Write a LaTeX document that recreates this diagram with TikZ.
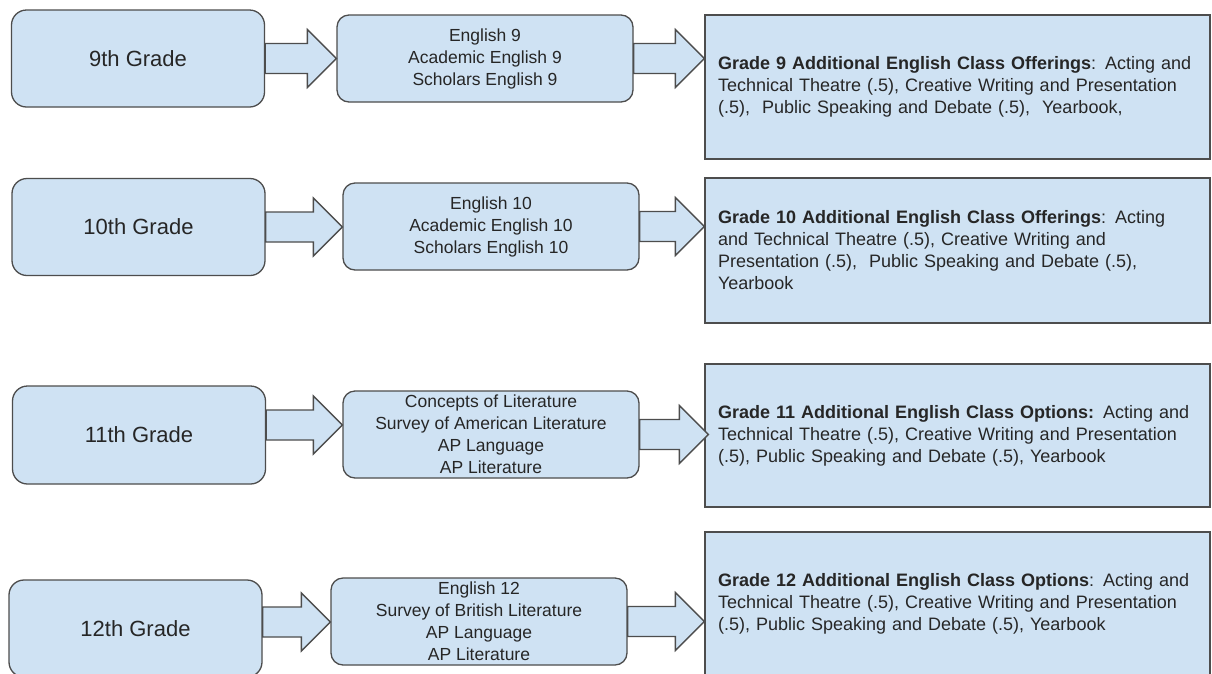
\documentclass[tikz,border=0pt]{standalone}
\usepackage{fontspec}
\setmainfont{Liberation Sans}
\usetikzlibrary{calc}
\definecolor{boxfill}{HTML}{CFE2F3}
\definecolor{boxline}{HTML}{4D4D4D}
\definecolor{txt}{HTML}{262626}
\tikzset{
  base/.style={draw=boxline, fill=boxfill, line width=1.3pt, inner sep=0pt, text=txt},
  gradebox/.style={base, rounded corners=15pt, minimum width=253pt, minimum height=97pt,
    font=\fontsize{22}{26}\selectfont},
  coursebox/.style={base, rounded corners=12pt, minimum width=296pt, minimum height=87pt,
    align=center, font=\fontsize{17.5}{22}\selectfont},
  offerbox/.style={base, minimum height=144pt, inner xsep=13pt, text width=479pt,
    align=left, font=\fontsize{18}{22}\selectfont},
  blockarrow/.style={draw=boxline, fill=boxfill, line width=1.3pt, line join=miter}
}
\newcommand\blockarr[2]{%
  \path #1 coordinate (tmpS);
  \path #2 coordinate (tmpE);
  \draw[blockarrow] let \p1=(tmpS), \p2=(tmpE) in
    (\x1,\y1+15pt) -- (\x2-29pt,\y1+15pt) -- (\x2-29pt,\y1+29pt) -- (\x2,\y1)
    -- (\x2-29pt,\y1-29pt) -- (\x2-29pt,\y1-15pt) -- (\x1,\y1-15pt) -- cycle;}
\begin{document}
\begin{tikzpicture}[x=1pt,y=-1pt]
\clip (0,0) rectangle (1212,673);
\fill[white] (0,0) rectangle (1212,673);
% row 1
\node[gradebox] (A1) at (138,58.5) {9th Grade};
\node[coursebox] (B1) at (485,58.5) {English 9\\Academic English 9\\Scholars English 9};
\node[offerbox] (C1) at (957.5,87) {\textbf{Grade 9 Additional English Class Offerings}: Acting and\\
Technical Theatre (.5), Creative Writing and Presentation\\
(.5),\ \ Public Speaking and Debate (.5),\ \ Yearbook,};
% row 2
\node[gradebox] (A2) at (138.5,227) {10th Grade};
\node[coursebox] (B2) at (491,226.5) {English 10\\Academic English 10\\Scholars English 10};
\node[offerbox, minimum height=145pt] (C2) at (957.5,250.5) {\textbf{Grade 10 Additional English Class Offerings}: Acting\\
and Technical Theatre (.5), Creative Writing and\\
Presentation (.5),\ \ Public Speaking and Debate (.5),\\
Yearbook};
% row 3
\node[gradebox, minimum height=98pt] (A3) at (139,435) {11th Grade};
\node[coursebox] (B3) at (491,434.5) {Concepts of Literature\\Survey of American Literature\\AP Language\\AP Literature};
\node[offerbox, minimum height=143pt] (C3) at (957.5,435.5) {\textbf{Grade 11 Additional English Class Options:} Acting and\\
Technical Theatre (.5), Creative Writing and Presentation\\
(.5), Public Speaking and Debate (.5), Yearbook};
% row 4
\node[gradebox] (A4) at (135.5,628.5) {12th Grade};
\node[coursebox] (B4) at (479,621.5) {English 12\\Survey of British Literature\\AP Language\\AP Literature};
\node[offerbox, minimum height=143pt] (C4) at (957.5,603.5) {\textbf{Grade 12 Additional English Class Options}: Acting and\\
Technical Theatre (.5), Creative Writing and Presentation\\
(.5), Public Speaking and Debate (.5), Yearbook};
% arrows
\blockarr{(A1.east)}{(B1.west)}
\blockarr{(B1.east)}{(C1.west)}
\blockarr{(A2.east)}{(B2.west)}
\blockarr{(B2.east)}{(C2.west)}
\blockarr{([yshift=10pt]A3.east)}{(B3.west)}
\blockarr{(B3.east)}{([xshift=4pt]C3.west)}
\blockarr{([yshift=6.5pt]A4.east)}{(B4.west)}
\blockarr{(B4.east)}{(C4.west)}
\end{tikzpicture}
\end{document}
